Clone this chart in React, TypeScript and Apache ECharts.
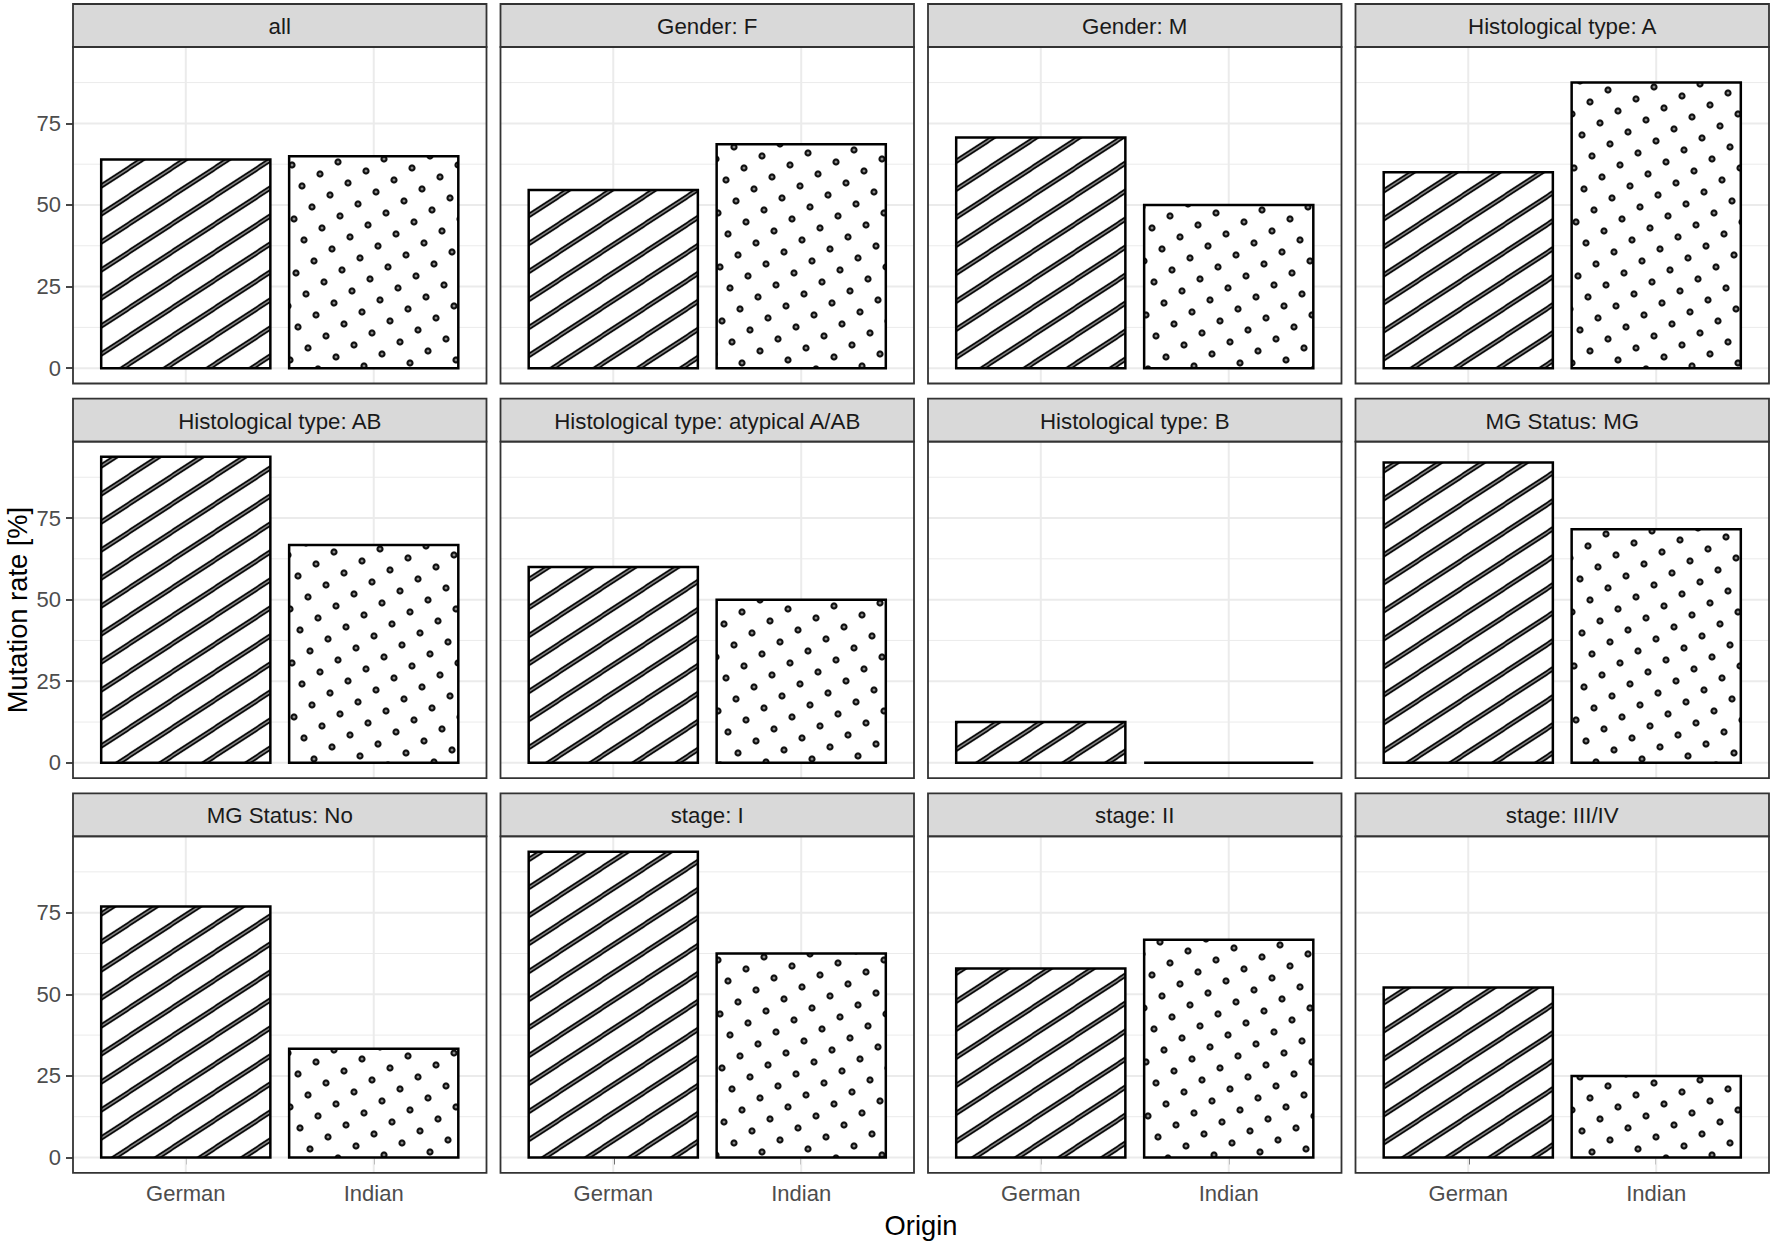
import { useEffect, useRef } from 'react'
import * as echarts from 'echarts'

// facet panels, left to right, top to bottom
const panelTitles = [
  'all',
  'Gender: F',
  'Gender: M',
  'Histological type: A',
  'Histological type: AB',
  'Histological type: atypical A/AB',
  'Histological type: B',
  'MG Status: MG',
  'MG Status: No',
  'stage: I',
  'stage: II',
  'stage: III/IV',
]
const origins = ['German', 'Indian']
const germanRate = [63.9, 54.6, 70.7, 60.0, 93.8, 60.0, 12.5, 92.0, 76.9, 93.7, 57.9, 52.1]
const indianRate = [64.9, 68.6, 50.0, 87.5, 66.7, 50.0, 0, 71.6, 33.3, 62.5, 66.7, 25.0]
const yTicks = [0, 25, 50, 75]
const yMinorGrid = [12.5, 37.5, 62.5, 87.5]
const xTicks = [1, 2]
const yRange = [-4.69, 98.4]
const xRange = [0.4, 2.6]

const FONT = '"Liberation Sans", Arial, Helvetica, sans-serif'
const COLS = 4
const LEFT0 = 73
const STEP_X = 427.5
const PANEL_W = 413.5
const TOP0 = 4
const STEP_Y = 394.65
const STRIP_H = 43
const PLOT_H = 336.5
const BAR_HALF = 0.45

function stripeTile() {
  const W = 43, H = 28, S = 3
  const c = document.createElement('canvas')
  c.width = W * S
  c.height = H * S
  const g = c.getContext('2d')!
  g.scale(S, S)
  g.fillStyle = '#fff'
  g.fillRect(0, 0, W, H)
  const draw = (color: string, w: number) => {
    g.strokeStyle = color
    g.lineWidth = w
    for (const k of [-1, 0, 1]) {
      g.beginPath()
      g.moveTo(-6, H * (1 + k) + (H / W) * 6)
      g.lineTo(W + 6, H * k - (H / W) * 6)
      g.stroke()
    }
  }
  draw('#000', 5)
  draw('#8c8c8c', 1.5)
  return { image: c, repeat: 'repeat', imageWidth: W, imageHeight: H }
}

function dotTile() {
  // lattice c = (18,-12), b = (10,21); tile = 7c+4b by -5c+9b
  const W = 166, H = 249, S = 2
  const cv = document.createElement('canvas')
  cv.width = W * S
  cv.height = H * S
  const g = cv.getContext('2d')!
  g.scale(S, S)
  g.fillStyle = '#fff'
  g.fillRect(0, 0, W, H)
  g.lineWidth = 2.2
  g.strokeStyle = '#111'
  g.fillStyle = '#888'
  for (let m = -30; m <= 30; m++) {
    for (let n = -30; n <= 30; n++) {
      const x = 18 * m + 10 * n
      const y = -12 * m + 21 * n
      if (x < -6 || x > W + 6 || y < -6 || y > H + 6) continue
      g.beginPath()
      g.arc(x, y, 2.5, 0, Math.PI * 2)
      g.fill()
      g.stroke()
    }
  }
  return { image: cv, repeat: 'repeat', imageWidth: W, imageHeight: H }
}

export default function App() {
  const chartRef = useRef<HTMLDivElement>(null)

  useEffect(() => {
    if (!chartRef.current) return
    document.body.style.margin = '0'
    const chart = echarts.init(chartRef.current, null, { renderer: 'svg' })

    const stripes = stripeTile()
    const dots = dotTile()

    const barItem = (fill: any) => (params: any, api: any) => {
      const x = api.value(0)
      const y = api.value(1)
      const a = api.coord([x - BAR_HALF, y])
      const b = api.coord([x + BAR_HALF, 0])
      return {
        type: 'rect',
        shape: { x: a[0], y: Math.min(a[1], b[1]), width: b[0] - a[0], height: Math.abs(b[1] - a[1]) },
        style: { fill, stroke: '#000', lineWidth: 2.5 },
      }
    }

    const gridItem = (params: any, api: any) => {
      const kind = api.value(0)
      const v = api.value(1)
      const major = api.value(2)
      const cs = params.coordSys
      const style = { stroke: '#ebebeb', lineWidth: major ? 2 : 1 }
      if (kind === 0) {
        const p = api.coord([xRange[0], v])
        return { type: 'line', shape: { x1: cs.x, y1: p[1], x2: cs.x + cs.width, y2: p[1] }, style }
      }
      const p = api.coord([v, 0])
      return { type: 'line', shape: { x1: p[0], y1: cs.y, x2: p[0], y2: cs.y + cs.height }, style }
    }

    const gridData = [
      ...yTicks.map(v => [0, v, 1]),
      ...yMinorGrid.map(v => [0, v, 0]),
      ...xTicks.map(v => [1, v, 1]),
    ]

    const grids: any[] = []
    const xAxes: any[] = []
    const yAxes: any[] = []
    const series: any[] = []
    const graphic: any[] = []
    const lastRow = Math.ceil(panelTitles.length / COLS) - 1

    panelTitles.forEach((title, i) => {
      const col = i % COLS
      const row = Math.floor(i / COLS)
      const left = LEFT0 + col * STEP_X
      const top = TOP0 + row * STEP_Y

      grids.push({ left, top: top + STRIP_H, width: PANEL_W, height: PLOT_H, containLabel: false })

      xAxes.push({
        gridIndex: i,
        type: 'value',
        min: xRange[0],
        max: xRange[1],
        splitLine: { show: false },
        axisLine: { show: false },
        axisTick: {
          show: row === lastRow,
          customValues: xTicks,
          length: 7,
          lineStyle: { color: '#333', width: 1.8 },
        },
        axisLabel: {
          show: row === lastRow,
          customValues: xTicks,
          formatter: (v: number) => origins[Math.round(v) - 1] ?? '',
          color: '#4d4d4d',
          fontSize: 22,
          fontFamily: FONT,
          margin: 10,
        },
      })

      yAxes.push({
        gridIndex: i,
        type: 'value',
        min: yRange[0],
        max: yRange[1],
        splitLine: { show: false },
        axisLine: { show: false },
        axisTick: {
          show: col === 0,
          customValues: yTicks,
          length: 7,
          lineStyle: { color: '#333', width: 1.8 },
        },
        axisLabel: {
          show: col === 0,
          customValues: yTicks,
          color: '#4d4d4d',
          fontSize: 22,
          fontFamily: FONT,
          margin: 12,
        },
      })

      series.push({
        type: 'custom',
        name: 'grid',
        xAxisIndex: i,
        yAxisIndex: i,
        z: 1,
        silent: true,
        dimensions: ['kind', 'value', 'major'],
        renderItem: gridItem,
        data: gridData,
      })
      series.push({
        type: 'custom',
        name: origins[0],
        xAxisIndex: i,
        yAxisIndex: i,
        z: 2,
        renderItem: barItem(stripes),
        data: [[1, germanRate[i]]],
      })
      series.push({
        type: 'custom',
        name: origins[1],
        xAxisIndex: i,
        yAxisIndex: i,
        z: 2,
        renderItem: barItem(dots),
        data: [[2, indianRate[i]]],
      })

      graphic.push({
        type: 'rect',
        z: 100,
        silent: true,
        shape: { x: left, y: top, width: PANEL_W, height: STRIP_H },
        style: { fill: '#d9d9d9', stroke: '#333', lineWidth: 1.8 },
      })
      graphic.push({
        type: 'text',
        z: 101,
        silent: true,
        x: left + PANEL_W / 2,
        y: top + STRIP_H / 2 + 1,
        style: {
          text: title,
          fill: '#1a1a1a',
          font: `22.3px ${FONT}`,
          textAlign: 'center',
          textVerticalAlign: 'middle',
        },
      })
      graphic.push({
        type: 'rect',
        z: 100,
        silent: true,
        shape: { x: left, y: top + STRIP_H, width: PANEL_W, height: PLOT_H },
        style: { fill: 'none', stroke: '#333', lineWidth: 1.8 },
      })
    })

    graphic.push({
      type: 'text',
      silent: true,
      x: (LEFT0 + LEFT0 + (COLS - 1) * STEP_X + PANEL_W) / 2,
      y: 1225,
      style: { text: 'Origin', fill: '#000', font: `27.3px ${FONT}`, textAlign: 'center', textVerticalAlign: 'middle' },
    })
    graphic.push({
      type: 'text',
      silent: true,
      x: 17,
      y: 610,
      rotation: Math.PI / 2,
      style: {
        text: 'Mutation rate [%]',
        fill: '#000',
        font: `27.3px ${FONT}`,
        textAlign: 'center',
        textVerticalAlign: 'middle',
      },
    })

    chart.setOption({
      animation: false,
      backgroundColor: '#fff',
      grid: grids,
      xAxis: xAxes,
      yAxis: yAxes,
      series,
      graphic,
    })

    return () => {
      chart.dispose()
    }
  }, [])

  return <div ref={chartRef} style={{ width: 1772, height: 1242 }} />
}
